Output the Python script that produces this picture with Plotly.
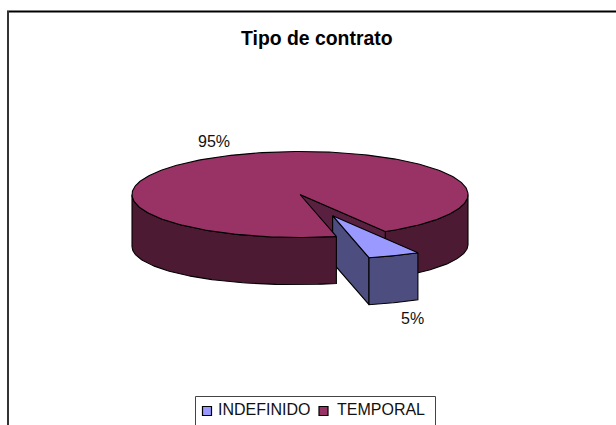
import numpy as np
import plotly.graph_objects as go

# Data
categories = ["INDEFINIDO", "TEMPORAL"]
values = [5, 95]
colors_top = ["#9999FF", "#993366"]
colors_side = ["#4D4D80", "#4D1A33"]
color_wall = "#5A2040"

W, H = 616, 425
FIRST_SLICE = 149.5   # degrees clockwise from 12 o'clock
CX, CY, RX, RY = 300.0, 194.5, 168.0, 43.0
EXPLODE = 0.53

total = sum(values)
a0 = FIRST_SLICE - 90.0
a1 = a0 + 360.0 * values[0] / total
mid = np.radians((a0 + a1) / 2)
OX, OY = RX * EXPLODE * np.cos(mid) , RY * EXPLODE * np.sin(mid)


def depth(th):
    return 50.0 - 3.0 * np.sin(np.radians(th)) + (2.0 * np.maximum(0, -np.cos(np.radians(th))))


def rim(t0, t1, ox=0.0, oy=0.0, n=80):
    t = np.linspace(t0, t1, n)
    r = np.radians(t)
    return CX + ox + RX * np.cos(r), CY + oy + RY * np.sin(r), t


fig = go.Figure()


def poly(x, y, fill, name=None):
    fig.add_trace(go.Scatter(x=np.r_[x, x[0]], y=np.r_[y, y[0]], mode="lines", fill="toself",
                             fillcolor=fill, line=dict(color="black", width=1.1),
                             hoverinfo="skip", showlegend=False))


def side(t0, t1, fill, ox=0.0, oy=0.0):
    x, y, t = rim(t0, t1, ox, oy)
    d = depth(t)
    poly(np.r_[x, x[::-1]], np.r_[y, (y + d)[::-1]], fill)


# Temporal: right outer wall, then the cut wall seen through the gap
side(0, a0, colors_side[1])
xe, ye, _ = rim(a0, a0, n=1)
d0 = depth(a0)
poly(np.r_[CX, xe, xe, CX], np.r_[CY, ye, ye + d0, CY + d0], color_wall)

# Indefinido: exploded slice
xb, yb, _ = rim(a1, a1, OX, OY, n=1)
poly(np.r_[CX + OX, xb, xb, CX + OX], np.r_[CY + OY, yb, yb + 47, CY + OY + 47], colors_side[0])
xa, ya, _ = rim(a0, a1, OX, OY)
poly(np.r_[xa, xa[::-1]], np.r_[ya, ya[::-1] + 47], colors_side[0])
poly(np.r_[CX + OX, xa], np.r_[CY + OY, ya], colors_top[0])

# Temporal: left outer wall and top face
side(a1, 180, colors_side[1])
xt, yt, _ = rim(a1, a0 + 360, n=300)
poly(np.r_[CX, xt], np.r_[CY, yt], colors_top[1])

# Legend entries
fig.add_trace(go.Scatter(
    x=[207, 323.5], y=[411, 411], mode="markers",
    marker=dict(symbol="square", size=9, color=colors_top, line=dict(color="black", width=1.2)),
    hoverinfo="skip", showlegend=False, cliponaxis=False))
fig.add_trace(go.Scatter(
    x=[218, 337], y=[411, 411], mode="text",
    text=categories, textposition="middle right",
    textfont=dict(family="Liberation Sans, Arial", size=16, color="#111"),
    hoverinfo="skip", showlegend=False, cliponaxis=False))

pct = [f"{v / total:.0%}" for v in values]
label_font = dict(family="Liberation Sans, Arial", size=16, color="#111")
annotations = [
    dict(x=412, y=318, text=pct[0], showarrow=False, font=label_font),
    dict(x=214, y=141, text=pct[1], showarrow=False, font=label_font),
    dict(x=317, y=38, text="<b>Tipo de contrato</b>", showarrow=False,
         font=dict(family="Liberation Sans, Arial", size=19.4, color="#000")),
]
for a in annotations:
    a.update(xref="x", yref="y", xanchor="center", yanchor="middle")

shapes = [
    dict(type="line", x0=7, x1=616, y0=11.5, y1=11.5, line=dict(color="#000", width=2)),
    dict(type="line", x0=8, x1=8, y0=11, y1=425, line=dict(color="#333", width=2)),
    dict(type="line", x0=195.5, x1=435.5, y0=396.5, y1=396.5, line=dict(color="#444", width=1)),
    dict(type="line", x0=195.5, x1=195.5, y0=396.5, y1=425, line=dict(color="#444", width=1)),
    dict(type="line", x0=435.5, x1=435.5, y0=396.5, y1=425, line=dict(color="#444", width=1)),
]

fig.update_layout(
    width=W, height=H, margin=dict(l=0, r=0, t=0, b=0),
    paper_bgcolor="white", plot_bgcolor="white",
    xaxis=dict(range=[0, W], visible=False, fixedrange=True),
    yaxis=dict(range=[H, 0], visible=False, fixedrange=True),
    annotations=annotations, shapes=shapes, showlegend=False,
)
fig.write_html("out.html", config={"displayModeBar": False},
               post_script="document.body.style.margin='0';document.documentElement.style.overflow='hidden';")
